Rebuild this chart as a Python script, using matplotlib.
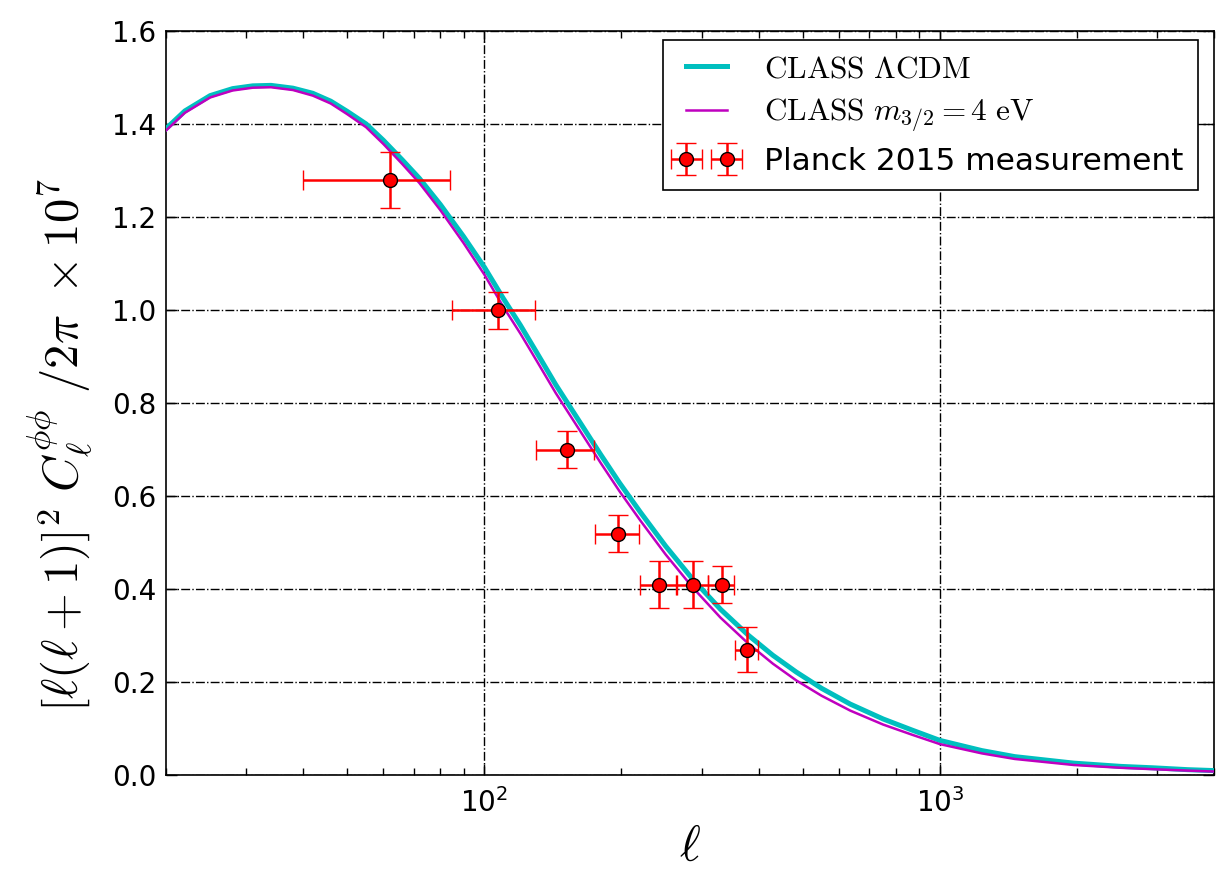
import matplotlib
matplotlib.use("Agg")
import matplotlib.pyplot as plt
from matplotlib.ticker import LogLocator, FormatStrFormatter, NullFormatter
import numpy as np

# Lensing potential power spectra, [l(l+1)]^2 C_l^{phiphi} / 2pi in units of 1e-7
ell_model = [20, 22, 25, 28, 31, 34, 38, 42, 46, 50, 55, 60, 66, 72, 80, 90, 100,
             110, 120, 130, 143.5, 160, 180, 198, 220, 250, 286, 330, 380, 430,
             484, 550, 636, 751, 870, 1000, 1237, 1461, 1970, 2500, 2938, 3500, 4000]
cl_lcdm = [1.391, 1.429, 1.462, 1.477, 1.483, 1.484, 1.478, 1.467, 1.450, 1.428,
           1.401, 1.366, 1.324, 1.284, 1.228, 1.159, 1.093, 1.026, 0.968, 0.911,
           0.840, 0.768, 0.690, 0.629, 0.566, 0.493, 0.423, 0.357, 0.301, 0.258,
           0.222, 0.187, 0.153, 0.121, 0.097, 0.075, 0.053, 0.040, 0.026, 0.019,
           0.016, 0.012, 0.010]
cl_grav = [1.387, 1.425, 1.458, 1.473, 1.479, 1.480, 1.474, 1.462, 1.445, 1.422,
           1.394, 1.358, 1.315, 1.274, 1.216, 1.145, 1.077, 1.008, 0.950, 0.893,
           0.822, 0.750, 0.672, 0.611, 0.548, 0.475, 0.405, 0.339, 0.283, 0.240,
           0.204, 0.171, 0.139, 0.109, 0.087, 0.067, 0.047, 0.035, 0.022, 0.016,
           0.013, 0.010, 0.008]

# Planck 2015 lensing bandpowers
ell_planck = [62, 107, 152, 197, 242, 287, 332, 377]
ell_half_width = [22, 22, 22, 22, 22, 22, 22, 22]
cl_planck = [1.28, 1.00, 0.70, 0.52, 0.41, 0.41, 0.41, 0.27]
cl_planck_err = [0.06, 0.04, 0.04, 0.04, 0.05, 0.05, 0.04, 0.048]

label_lcdm = r'$\mathrm{CLASS}\ \Lambda\mathrm{CDM}$'
label_grav = r'$\mathrm{CLASS}\ m_{3/2} = 4\ \mathrm{eV}$'
label_planck = 'Planck 2015 measurement'

plt.rcParams['font.family'] = 'DejaVu Sans'

fig = plt.figure(figsize=(12.28, 8.74), dpi=100)
ax = fig.add_axes([0.1352, 0.1130, 0.8534, 0.8510])

ax.plot(ell_model, cl_lcdm, color=(0.0, 0.75, 0.75), lw=3.6, label=label_lcdm, zorder=3)
ax.plot(ell_model, cl_grav, color=(0.75, 0.0, 0.75), lw=1.8, label=label_grav, zorder=4)
ax.errorbar(ell_planck, cl_planck, xerr=ell_half_width, yerr=cl_planck_err,
            fmt='o', color='red', ecolor='red', mfc='red', mec='black', mew=1.0,
            ms=10, elinewidth=1.8, capsize=7, capthick=1.8, label=label_planck, zorder=5)

ax.set_xscale('log')
ax.set_xlim(20, 4000)
ax.set_ylim(0.0, 1.6)
ax.set_yticks(np.arange(0, 1.61, 0.2))
ax.yaxis.set_major_formatter(FormatStrFormatter('%.1f'))
ax.xaxis.set_minor_locator(LogLocator(base=10, subs=np.arange(2, 10)))
ax.xaxis.set_minor_formatter(NullFormatter())

ax.grid(True, which='major', color='black', linestyle='-.', linewidth=1.0)
ax.tick_params(axis='both', which='both', direction='in', top=True, right=True,
               labelsize=20)
ax.tick_params(which='major', length=8, width=1.0)
ax.tick_params(which='minor', length=5, width=1.0)
ax.tick_params(axis='x', which='major', pad=9)
ax.tick_params(axis='y', which='major', pad=7)
for s in ax.spines.values():
    s.set_linewidth(1.2)

ax.set_xlabel(r'$\ell$', fontsize=36, labelpad=4, math_fontfamily='cm')
ax.set_ylabel(r'$[\ell(\ell+1)]^2\ C_\ell^{\phi\phi}\ /2\pi\ \times 10^7$', fontsize=35,
              math_fontfamily='cm')
ax.yaxis.set_label_coords(-0.068, 0.444)

leg = ax.legend(loc='upper right', bbox_to_anchor=(0.9845, 0.9885), numpoints=2,
                fancybox=False, framealpha=1.0, edgecolor='black', fontsize=22.5,
                handlelength=1.9, handletextpad=0.9, borderpad=0.45,
                labelspacing=0.42, borderaxespad=0.0)
leg.get_frame().set_linewidth(1.2)
for t in leg.get_texts()[:2]:
    t.set_math_fontfamily('cm')

fig.savefig('out.png', dpi=100)
